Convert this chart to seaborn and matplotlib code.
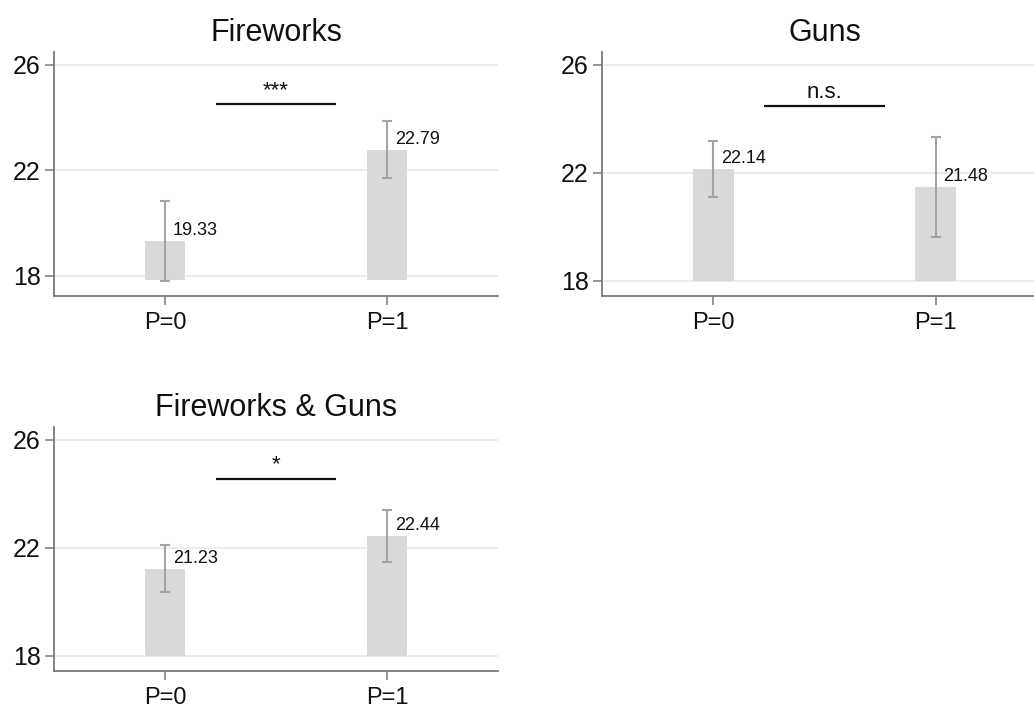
import matplotlib
matplotlib.use("Agg")
import matplotlib.pyplot as plt
import seaborn as sns
import pandas as pd

# Group labels and panel titles
categories = ["P=0", "P=1"]
titles = ["Fireworks", "Guns", "Fireworks & Guns"]

# Means and half-widths of the 95% intervals per panel
means = [[19.33, 22.79], [22.14, 21.48], [21.23, 22.44]]
half_ci = [[1.52, 1.09], [1.05, 1.84], [0.88, 0.97]]

# Significance of the P=0 vs P=1 comparison
sig_labels = ["***", "n.s.", "*"]

# Axis settings
y_ticks = [18, 22, 26]
y_limits = [(17.24, 26.49), (17.44, 26.48), (17.44, 26.48)]
bar_base = [17.85, 18.0, 18.0]
sig_height = [24.52, 24.48, 24.56]

sns.set_theme(style="white")
plt.rcParams["font.family"] = ["Liberation Sans", "DejaVu Sans"]

fig = plt.figure(figsize=(10.34, 7.08), dpi=100)
W, H = 1034, 708
boxes = [(54, 52, 498, 296), (602, 52, 1047, 296), (54, 427, 498, 671)]

bar_color = "#d9d9d9"
err_color = "#a3a3a3"
spine_color = "#7a7a7a"

for k, (x0, y0, x1, y1) in enumerate(boxes):
    ax = fig.add_axes([x0 / W, 1 - y1 / H, (x1 - x0) / W, (y1 - y0) / H])
    base = bar_base[k]
    df = pd.DataFrame({"group": categories,
                       "height": [m - base for m in means[k]]})
    sns.barplot(data=df, x="group", y="height", bottom=base, color=bar_color,
                width=0.184, errorbar=None, ax=ax, linewidth=0, saturation=1)
    xs = range(len(categories))
    ax.errorbar(list(xs), means[k], yerr=half_ci[k], fmt="none",
                ecolor=err_color, elinewidth=1.5, capsize=3.6, capthick=1.5,
                zorder=4)
    for i, m in zip(xs, means[k]):
        ax.text(i + 0.035, m + 0.38, f"{m:.2f}", ha="left", va="center",
                fontsize=13, color="#111111", zorder=5)

    # Comparison bar with its significance marker
    ax.plot([0.23, 0.77], [sig_height[k]] * 2, color="#111111", lw=1.6,
            solid_capstyle="butt", zorder=5)
    ax.text(0.5, sig_height[k] + 0.12, sig_labels[k], ha="center",
            va="bottom", fontsize=16, color="#111111")

    ax.set_xlim(-0.5, 1.5)
    ax.set_ylim(*y_limits[k])
    ax.set_yticks(y_ticks)
    ax.set_yticklabels([str(t) for t in y_ticks])
    for t in y_ticks:
        ax.axhline(t, color="#ebebeb", lw=1.3, zorder=0)
    ax.set_xlabel("")
    ax.set_ylabel("")
    ax.set_title(titles[k], fontsize=22, pad=8, color="#111111")

    for side in ["top", "right"]:
        ax.spines[side].set_visible(False)
    for side in ["left", "bottom"]:
        ax.spines[side].set_color(spine_color)
        ax.spines[side].set_linewidth(1.3)
    ax.tick_params(axis="y", which="major", length=6.5, width=1.1,
                   color=spine_color, labelsize=18, pad=3, left=True,
                   labelcolor="#111111")
    ax.tick_params(axis="x", which="major", length=6.5, width=1.1,
                   color=spine_color, labelsize=17, pad=5, bottom=True,
                   labelcolor="#111111")
    ax.set_facecolor("white")

fig.savefig("out.png", dpi=100, facecolor="white")
